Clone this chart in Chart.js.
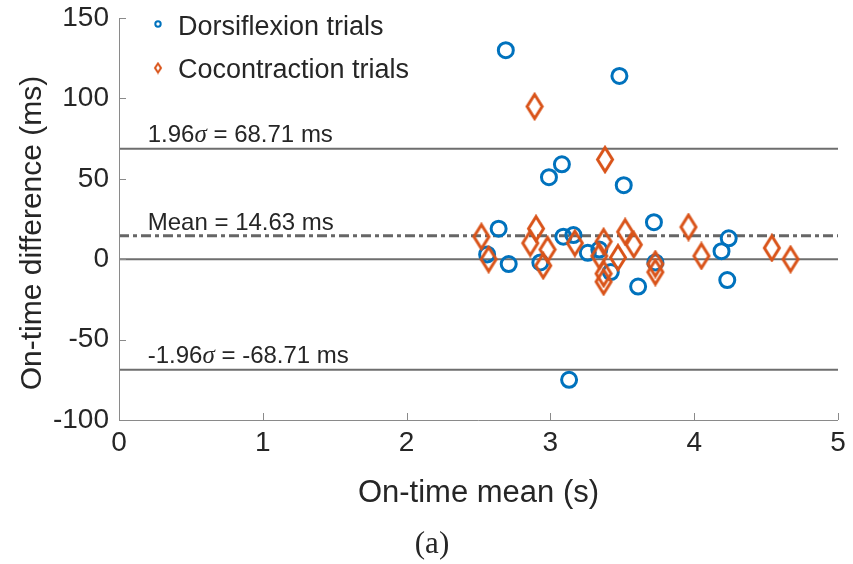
<!DOCTYPE html>
<html>
<head>
<meta charset="utf-8">
<script src="https://cdn.jsdelivr.net/npm/chart.js@4.4.0/dist/chart.umd.min.js"></script>
<style>
html, body { margin: 0; padding: 0; background: #fff; }
</style>
</head>
<body>
<canvas id="baChart" width="853" height="564"></canvas>
<script>
// On-time mean (s) / difference (ms)
const dorsiX = [2.69, 3.48, 3.08, 2.99, 3.51, 2.64, 3.72, 4.24, 4.19, 2.56, 2.71, 2.93, 3.09, 3.16, 3.26, 3.34, 3.42, 3.61, 3.73, 3.13, 4.23];
const dorsiY = [130, 114, 59, 51, 46, 19, 23, 13, 5, 3, -3, -2, 14, 15, 4, 6, -8, -17, -2, -75, -13];
const coconX = [2.89, 3.38, 2.52, 2.57, 2.90, 2.86, 2.98, 2.95, 3.17, 3.37, 3.52, 3.58, 3.34, 3.47, 3.37, 3.37, 3.73, 3.73, 3.96, 4.05, 4.54, 4.67];
const coconY = [95, 62, 14, 0, 19, 10, 6, -4, 10, 11, 17, 9, 2, 1, -9, -14, -3, -8, 20, 2, 7, 0];

const meanDiff = 14.63;
const limit = 68.71;
const xTicks = [0, 1, 2, 3, 4, 5];
const yTicks = [-100, -50, 0, 50, 100, 150];

const BLUE = '#0072BD';
const ORANGE = '#D95319';
const GREY = '#6e6e6e';
const TEXT = '#262626';

function diamondCanvas(hw, hh, lw, color) {
    const c = document.createElement('canvas');
    c.width = Math.ceil(2 * hw + lw + 2);
    c.height = Math.ceil(2 * hh + lw + 2);
    const g = c.getContext('2d');
    const cx = c.width / 2, cy = c.height / 2;
    g.strokeStyle = color;
    g.lineWidth = lw;
    g.beginPath();
    g.moveTo(cx, cy - hh);
    g.lineTo(cx + hw, cy);
    g.lineTo(cx, cy + hh);
    g.lineTo(cx - hw, cy);
    g.closePath();
    g.stroke();
    return c;
}

const bigDiamond = diamondCanvas(7.5, 12, 3, ORANGE);
const smallDiamond = diamondCanvas(3, 4.5, 2, ORANGE);

const toPts = (xs, ys) => xs.map((v, i) => ({ x: v, y: ys[i] }));
const hLine = v => [{ x: xTicks[0], y: v }, { x: xTicks[xTicks.length - 1], y: v }];

function drawSigmaText(ctx, pre, post, x, y) {
    ctx.font = '24px "Liberation Sans"';
    ctx.fillText(pre, x, y);
    x += ctx.measureText(pre).width;
    ctx.font = 'italic 25px "Liberation Serif"';
    ctx.fillText('\u03C3', x, y);
    x += ctx.measureText('\u03C3').width;
    ctx.font = '24px "Liberation Sans"';
    ctx.fillText(post, x, y);
}

const extras = {
    id: 'baExtras',
    afterDatasetsDraw(chart) {
        const { ctx, chartArea: a, scales: { x, y } } = chart;
        ctx.save();
        // axes with inward ticks
        ctx.strokeStyle = '#8a8a8a';
        ctx.lineWidth = 1;
        ctx.beginPath();
        ctx.moveTo(a.left + 0.5, a.top);
        ctx.lineTo(a.left + 0.5, a.bottom + 0.5);
        ctx.lineTo(a.right, a.bottom + 0.5);
        yTicks.forEach(v => {
            const py = Math.round(y.getPixelForValue(v)) + 0.5;
            ctx.moveTo(a.left, py);
            ctx.lineTo(a.left + 7, py);
        });
        xTicks.forEach(v => {
            const px = Math.round(x.getPixelForValue(v)) + 0.5;
            ctx.moveTo(px, a.bottom);
            ctx.lineTo(px, a.bottom - 7);
        });
        ctx.stroke();

        // labels on the reference lines
        ctx.fillStyle = TEXT;
        ctx.textAlign = 'left';
        ctx.textBaseline = 'alphabetic';
        const lx = x.getPixelForValue(0.2);
        drawSigmaText(ctx, '1.96', ' = ' + limit.toFixed(2) + ' ms', lx, y.getPixelForValue(limit) - 7);
        ctx.font = '24px "Liberation Sans"';
        ctx.fillText('Mean = ' + meanDiff.toFixed(2) + ' ms', lx, y.getPixelForValue(meanDiff) - 6);
        drawSigmaText(ctx, '-1.96', ' = -' + limit.toFixed(2) + ' ms', lx, y.getPixelForValue(-limit) - 7);
        ctx.restore();
    },
    afterDraw(chart) {
        const { ctx, chartArea: a } = chart;
        ctx.save();
        // legend
        ctx.strokeStyle = BLUE;
        ctx.lineWidth = 2;
        ctx.beginPath();
        ctx.arc(158, 24, 2.7, 0, Math.PI * 2);
        ctx.stroke();
        ctx.drawImage(smallDiamond, 158 - smallDiamond.width / 2, 68 - smallDiamond.height / 2);
        ctx.fillStyle = TEXT;
        ctx.font = '27px "Liberation Sans"';
        ctx.textBaseline = 'alphabetic';
        ctx.fillText(chart.data.datasets[0].label, 178, 35);
        ctx.fillText(chart.data.datasets[1].label, 178, 78);

        // axis titles
        ctx.textAlign = 'center';
        ctx.font = '31px "Liberation Sans"';
        ctx.fillText('On-time mean (s)', (a.left + a.right) / 2, 502);
        ctx.save();
        ctx.translate(41, 233);
        ctx.rotate(-Math.PI / 2);
        ctx.font = '30px "Liberation Sans"';
        ctx.fillText('On-time difference (ms)', 0, 0);
        ctx.restore();

        // caption
        ctx.font = '31px "Liberation Serif"';
        ctx.fillText('(a)', 432, 553);
        ctx.restore();
    }
};

new Chart(document.getElementById('baChart').getContext('2d'), {
    type: 'scatter',
    data: {
        datasets: [{
            label: 'Dorsiflexion trials',
            data: toPts(dorsiX, dorsiY),
            pointStyle: 'circle',
            pointRadius: 7.5,
            pointBorderWidth: 3,
            borderColor: BLUE,
            backgroundColor: 'rgba(0,0,0,0)',
            order: 1
        }, {
            label: 'Cocontraction trials',
            data: toPts(coconX, coconY),
            pointStyle: bigDiamond,
            pointRadius: 12,
            borderColor: ORANGE,
            backgroundColor: 'rgba(0,0,0,0)',
            order: 0
        }, {
            type: 'line',
            data: hLine(limit),
            borderColor: GREY, borderWidth: 2, pointRadius: 0, order: 2
        }, {
            type: 'line',
            data: hLine(0),
            borderColor: GREY, borderWidth: 2, pointRadius: 0, order: 2
        }, {
            type: 'line',
            data: hLine(-limit),
            borderColor: GREY, borderWidth: 2, pointRadius: 0, order: 2
        }, {
            type: 'line',
            data: hLine(meanDiff),
            borderColor: '#666666', borderWidth: 3, borderDash: [10, 4, 4, 4],
            pointRadius: 0, order: 2
        }]
    },
    options: {
        responsive: false,
        animation: false,
        layout: { padding: { left: 0, top: 18, right: 15, bottom: 0 } },
        plugins: {
            legend: { display: false },
            tooltip: { enabled: false }
        },
        scales: {
            x: {
                type: 'linear',
                min: 0,
                max: 5,
                afterFit: s => { s.height = 144; s.paddingLeft = 0; s.paddingRight = 0; },
                afterBuildTicks: s => { s.ticks = xTicks.map(v => ({ value: v })); },
                ticks: {
                    color: TEXT,
                    padding: 6,
                    font: { family: '"Liberation Sans"', size: 28 }
                },
                grid: { display: false, drawTicks: false },
                border: { display: false }
            },
            y: {
                type: 'linear',
                min: -100,
                max: 150,
                afterFit: s => { s.width = 119; s.paddingTop = 0; s.paddingBottom = 0; },
                afterBuildTicks: s => { s.ticks = yTicks.map(v => ({ value: v })); },
                ticks: {
                    color: TEXT,
                    padding: 10,
                    font: { family: '"Liberation Sans"', size: 28 }
                },
                grid: { display: false, drawTicks: false },
                border: { display: false }
            }
        }
    },
    plugins: [extras]
});
</script>
</body>
</html>
